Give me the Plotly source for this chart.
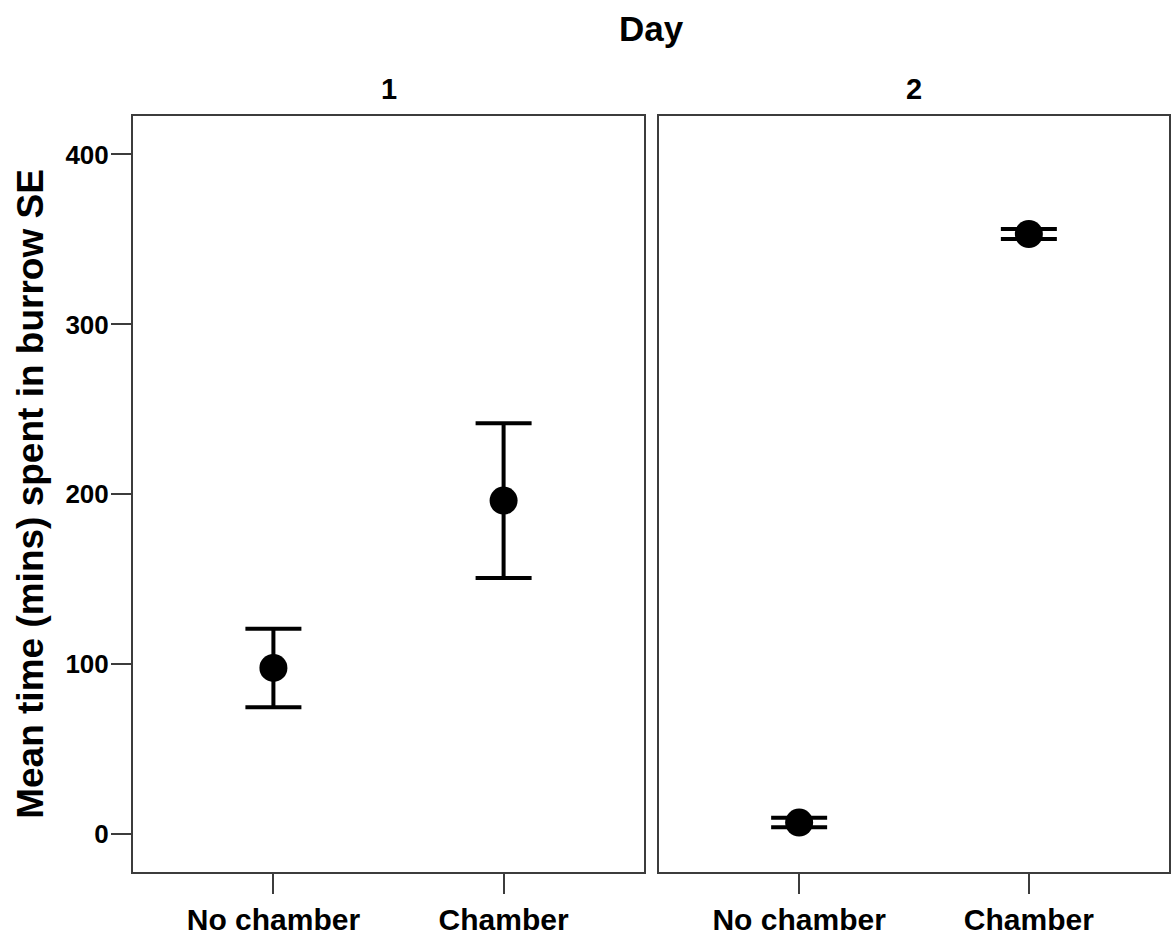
import plotly.graph_objects as go

# ---- data ----
categories = ["No chamber", "Chamber"]
day_labels = ["1", "2"]
mean_day1 = [97.8, 196.3]
se_day1 = [23.1, 45.5]
mean_day2 = [6.8, 353.2]
se_day2 = [2.8, 2.9]
y_ticks = [0, 100, 200, 300, 400]

FONT = "Liberation Sans, Arial, sans-serif"
AX = "#3c3c3c"
W, H = 1171, 936

fig = go.Figure()
for i, (means, ses) in enumerate([(mean_day1, se_day1), (mean_day2, se_day2)]):
    xa = "x" if i == 0 else "x2"
    ya = "y" if i == 0 else "y2"
    fig.add_trace(go.Scatter(
        x=categories, y=means, mode="markers",
        marker=dict(color="black", size=28, line=dict(width=0)),
        error_y=dict(type="data", array=ses, visible=True,
                     color="black", thickness=4, width=28),
        xaxis=xa, yaxis=ya, showlegend=False, cliponaxis=False,
    ))

x_left = [133 / W, 644 / W]
x_right = [659 / W, 1169 / W]
y_dom = [(H - 878) / H, (H - 117) / H]
yr = [-22.5, 422.5]
xr = [-0.61, 1.61]

common_x = dict(type="category", range=xr, showline=True, linecolor=AX, linewidth=2,
                mirror=True, ticks="outside", ticklen=20, tickwidth=2, tickcolor=AX,
                showgrid=False, zeroline=False,
                tickfont=dict(family=FONT, size=30, color="black", weight="bold"))

fig.update_layout(
    width=W, height=H,
    margin=dict(l=0, r=0, t=0, b=0),
    paper_bgcolor="white", plot_bgcolor="white",
    xaxis=dict(domain=x_left, anchor="y", **common_x),
    xaxis2=dict(domain=x_right, anchor="y2", **common_x),
    yaxis=dict(domain=y_dom, range=yr, anchor="x", tickvals=y_ticks,
               showline=True, linecolor=AX, linewidth=2, mirror=True,
               ticks="outside", ticklen=20, tickwidth=2, tickcolor=AX,
               ticklabelstandoff=-3,
               showgrid=False, zeroline=False,
               tickfont=dict(family=FONT, size=26, color="black", weight="bold")),
    yaxis2=dict(domain=y_dom, range=yr, anchor="x2", matches="y",
                showline=True, linecolor=AX, linewidth=2, mirror=True,
                ticks="", showticklabels=False, showgrid=False, zeroline=False),
)

ann_font = dict(family=FONT, color="black", weight="bold")
fig.add_annotation(text="Day", x=651.5 / W, y=(H - 29) / H, xref="paper", yref="paper",
                   showarrow=False, xanchor="center", yanchor="middle",
                   font=dict(size=35, **ann_font))
for lab, dom in zip(day_labels, [x_left, x_right]):
    fig.add_annotation(text=lab, x=(dom[0] + dom[1]) / 2, y=(H - 90) / H,
                       xref="paper", yref="paper", showarrow=False,
                       xanchor="center", yanchor="middle",
                       font=dict(size=29, **ann_font))
fig.add_annotation(text="Mean time (mins) spent in burrow SE", textangle=-90,
                   x=31 / W, y=(H - 497) / H, xref="paper", yref="paper",
                   showarrow=False, xanchor="center", yanchor="middle",
                   font=dict(size=37, **ann_font))

fig.write_html(
    "out.html",
    config={"displayModeBar": False},
    post_script="document.body.style.margin='0';document.body.style.overflow='hidden';",
)
